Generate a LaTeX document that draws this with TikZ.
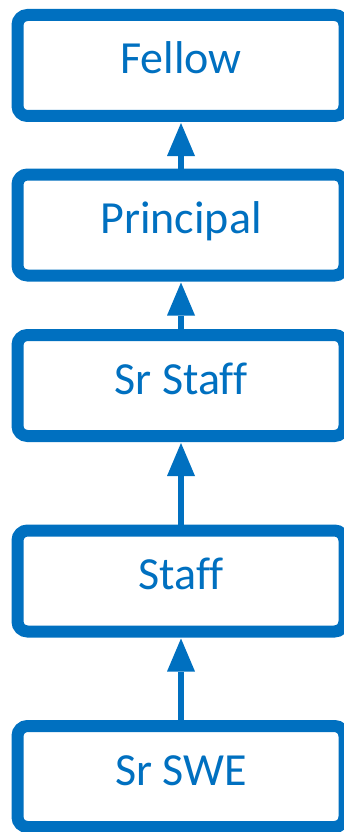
\documentclass[tikz,border=0pt]{standalone}
\usepackage{fontspec}
\setmainfont[Ligatures=NoCommon]{Carlito}
\usetikzlibrary{arrows.meta}
\definecolor{cblue}{HTML}{0070C0}
\begin{document}
\begin{tikzpicture}[x=1pt,y=-1pt,
  level/.style={draw=cblue, line width=12pt, rounded corners=10pt, fill=white,
    minimum width=327pt, minimum height=101pt, inner sep=0pt,
    text=cblue, font=\fontsize{46pt}{50pt}\selectfont,
    text height=29pt, text depth=12pt},
  up/.style={draw=cblue, line width=6pt, shorten >=1pt,
    -{Triangle[length=33pt,width=28pt,line width=0pt]}}]
\useasboundingbox (0,0) rectangle (343,832);
\node[level] (fellow) at (181,65.5) {Fellow};
\node[level] (principal) at (181,225) {Principal};
\node[level] (srstaff) at (181,385.5) {Sr Staff};
\node[level] (staff) at (181,581) {Staff};
\node[level] (srswe) at (181,776.5) {Sr SWE};
\draw[up] (principal.north) -- (fellow.south);
\draw[up] (srstaff.north) -- (principal.south);
\draw[up] (staff.north) -- (srstaff.south);
\draw[up] (srswe.north) -- (staff.south);
\end{tikzpicture}
\end{document}
